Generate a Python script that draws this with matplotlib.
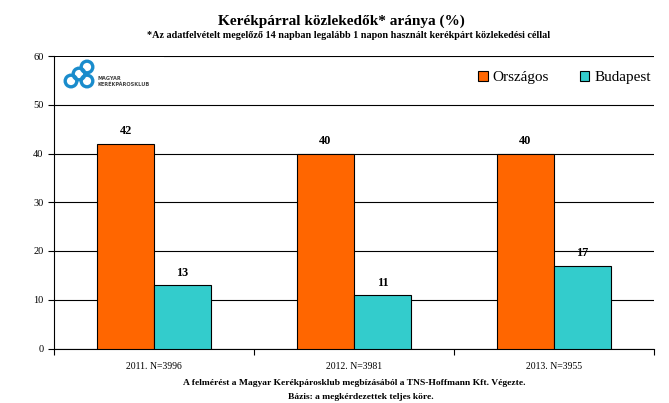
import matplotlib
matplotlib.use("Agg")
import matplotlib.pyplot as plt
from matplotlib.patches import Ellipse, Patch

# data
categories = ["2011. N=3996", "2012. N=3981", "2013. N=3955"]
orszagos = [42, 40, 40]
budapest = [13, 11, 17]
series_names = ["Országos", "Budapest"]
colors = ["#FF6600", "#33CCCC"]

plt.rcParams['font.family'] = ['Liberation Serif', 'DejaVu Serif']

W, H = 669, 403
fig = plt.figure(figsize=(W/100, H/100), dpi=100)
ax = fig.add_axes([54/W, (H - 348.5)/H, 600/W, 292.5/H])

x = list(range(len(categories)))
w = 0.285
b1 = ax.bar([i - w/2 for i in x], orszagos, w, color=colors[0], edgecolor="black", linewidth=0.8, zorder=3)
b2 = ax.bar([i + w/2 for i in x], budapest, w, color=colors[1], edgecolor="black", linewidth=0.8, zorder=3)

for bars in (b1, b2):
    for r in bars:
        ax.text(r.get_x() + r.get_width()/2, r.get_height() + 1.3, str(int(r.get_height())),
                ha="center", va="bottom", fontsize=8.8, fontweight="bold")

ax.set_ylim(0, 60)
ax.set_yticks(range(0, 61, 10))
ax.set_xlim(-0.5, 2.5)
ax.yaxis.grid(True, color="black", linewidth=0.8, zorder=0)
ax.set_axisbelow(True)
for s in ["top", "right"]:
    ax.spines[s].set_visible(False)
ax.spines["left"].set_linewidth(0.8)
ax.spines["bottom"].set_linewidth(0.8)

# category ticks at boundaries, labels centred
ax.set_xticks([-0.5, 0.5, 1.5, 2.5])
ax.set_xticklabels([])
ax.set_xticks(x, minor=True)
ax.set_xticklabels(categories, minor=True, fontsize=7)
ax.tick_params(axis="x", which="minor", length=0, pad=10)
ax.tick_params(axis="x", which="major", length=4, direction="out")
ax.tick_params(axis="y", labelsize=7.5, length=4)

handles = [Patch(facecolor=c, edgecolor="black", linewidth=0.8) for c in colors]
ax.legend(handles, series_names, loc="center left", bbox_to_anchor=((472 - 54)/600, (348.5 - 77.5)/292.5),
          ncol=2, frameon=False, fontsize=11, handlelength=0.65, handleheight=0.65,
          handletextpad=0.3, columnspacing=2.0, borderaxespad=0)

# logo
fig.patches.append(plt.Rectangle((56/W, 1 - 93/H), 108/W, 36/H, transform=fig.transFigure,
                                 facecolor="white", edgecolor="none", zorder=2))
r = 5.8
for cx, cy in [(87, 67), (79, 74), (71, 81), (87, 81)]:
    fig.patches.append(Ellipse((cx/W, 1 - cy/H), 2*r/W, 2*r/H, transform=fig.transFigure,
                               facecolor="none", edgecolor="#1a8ccc", linewidth=2.4, zorder=3))
fig.text(97/W, 1 - 78/H, "MAGYAR", fontsize=3.6, color="#444444", family="DejaVu Sans",
         fontweight="bold", va="center")
fig.text(97/W, 1 - 84/H, "KERÉKPÁROSKLUB", fontsize=3.6, color="#444444", family="DejaVu Sans",
         fontweight="bold", va="center")

fig.text(341/W, 1 - 21/H, "Kerékpárral közlekedők* aránya (%)", ha="center", va="center",
         fontsize=11, fontweight="bold")
fig.text(349/W, 1 - 35/H, "*Az adatfelvételt megelőző 14 napban legalább 1 napon használt kerékpárt közlekedési céllal",
         ha="center", va="center", fontsize=7.3, fontweight="bold")
fig.text(354/W, 1 - 383/H, "A felmérést a Magyar Kerékpárosklub megbízásából a TNS-Hoffmann Kft. Végezte.",
         ha="center", va="center", fontsize=6.8, fontweight="bold")
fig.text(361/W, 1 - 397/H, "Bázis: a megkérdezettek teljes köre.",
         ha="center", va="center", fontsize=6.8, fontweight="bold")

fig.savefig("out.png", dpi=100)
